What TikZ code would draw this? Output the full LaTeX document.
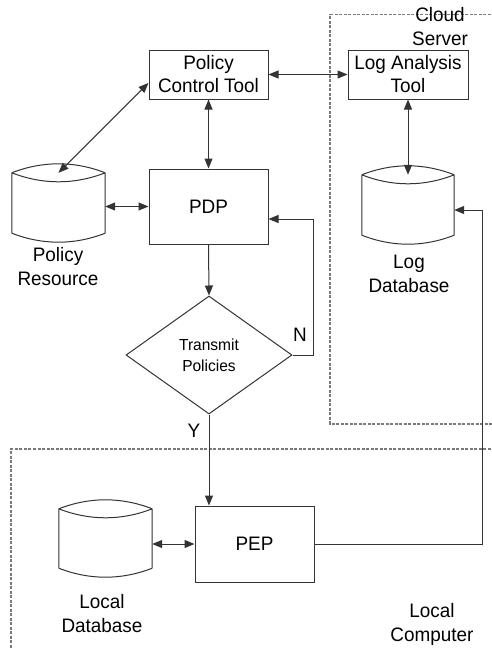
\documentclass[tikz,border=0pt]{standalone}
\usepackage{fontspec}
\setmainfont{Liberation Sans}[FakeStretch=0.97]
\usetikzlibrary{arrows.meta,shapes.geometric,calc}
\definecolor{ln}{HTML}{333333}
\definecolor{dsh}{HTML}{7A7A7A}
\tikzset{
  box/.style={draw=ln,line width=1pt,rectangle,inner sep=0pt,font=\fontsize{19.5}{23}\selectfont,align=center},
  dbnode/.style={draw=none,inner sep=0pt},
  lbl/.style={font=\fontsize{19.5}{24}\selectfont,align=center,inner sep=0pt},
  conn/.style={draw=ln,line width=1pt},
  tip/.style={-{Triangle[length=10pt,width=8pt]}},
  tips/.style={{Triangle[length=10pt,width=8pt]}-{Triangle[length=10pt,width=8pt]}},
  zone/.style={draw=dsh,line width=1.1pt,dash pattern=on 3pt off 1.5pt}
}
\newcommand{\dbdraw}[1]{%
  \draw[ln,line width=1pt]
    (#1.north west) .. controls ($(#1.north west)!0.33!(#1.north east)+(0,-12)$) and ($(#1.north west)!0.67!(#1.north east)+(0,-12)$) .. (#1.north east)
    (#1.north west) .. controls ($(#1.north west)!0.33!(#1.north east)+(0,12)$) and ($(#1.north west)!0.67!(#1.north east)+(0,12)$) .. (#1.north east)
    (#1.north west) -- (#1.south west)
    (#1.north east) -- (#1.south east)
    (#1.south west) .. controls ($(#1.south west)!0.33!(#1.south east)+(0,12)$) and ($(#1.south west)!0.67!(#1.south east)+(0,12)$) .. (#1.south east);}
\begin{document}
\begin{tikzpicture}[x=1pt,y=-1pt]
\useasboundingbox (0,0) rectangle (491,648);
% zones
\draw[zone] (495,14.7) -| (330,424) -- (495,424);
\draw[zone] (495,449) -| (11,652);
\node[lbl] (cloud) at (440,27) {Cloud\\Server};
\node[lbl] (localc) at (432,624.5) {Local\\Computer};
% boxes
\node[box,minimum width=119pt,minimum height=49pt] (pct) at (208.5,74.5) {Policy\\Control Tool};
\node[box,minimum width=120pt,minimum height=49pt] (lat) at (408,74.5) {Log Analysis\\Tool};
\node[box,minimum width=119pt,minimum height=75pt] (pdp) at (208.5,206.5) {PDP};
\node[box,minimum width=119pt,minimum height=76pt] (pep) at (254.5,544) {PEP};
\node[draw=ln,line width=1pt,diamond,aspect=1.4,minimum width=166pt,minimum height=118pt,inner sep=0pt,font=\fontsize{16}{21}\selectfont,align=center] (dia) at (209,355) {Transmit\\Policies};
% databases
\node[dbnode,minimum width=93pt,minimum height=60pt] (pr) at (58.5,203) {};
\node[dbnode,minimum width=92pt,minimum height=60pt] (logdb) at (408,205) {};
\node[dbnode,minimum width=93pt,minimum height=59pt] (locdb) at (105.5,538.5) {};
\dbdraw{pr}
\dbdraw{logdb}
\dbdraw{locdb}
\node[lbl] (prl) at (58,267) {Policy\\Resource};
\node[lbl] (logl) at (409,273.5) {Log\\Database};
\node[lbl] (locl) at (102,613.5) {Local\\Database};
% connectors
\draw[conn,tips] (pct.188) -- (pr.north);
\draw[conn,tips] (pct.south) -- (pdp.north);
\draw[conn,tips] (pct.east) -- (lat.west);
\draw[conn,tips] (lat.south) -- (logdb.north);
\draw[conn,tips] (pdp.west -| pr.east) -- (pdp.west);
\draw[conn,tip] (pdp.south) -- (dia.north);
\coordinate (nloop) at (313,219);
\draw[conn,tip] (dia.east) -| (nloop) -- (nloop -| pdp.east);
\draw[conn,tip] (dia.south) -- (dia.south |- pep.north);
\draw[conn,tips] (pep.west -| locdb.east) -- (pep.west);
\coordinate (rloop) at (482,210);
\draw[conn,tip] (pep.east) -| (rloop) -- (rloop -| logdb.east);
\node[lbl] (nlab) at (300,335) {N};
\node[lbl] (ylab) at (194,431) {Y};
\end{tikzpicture}
\end{document}
